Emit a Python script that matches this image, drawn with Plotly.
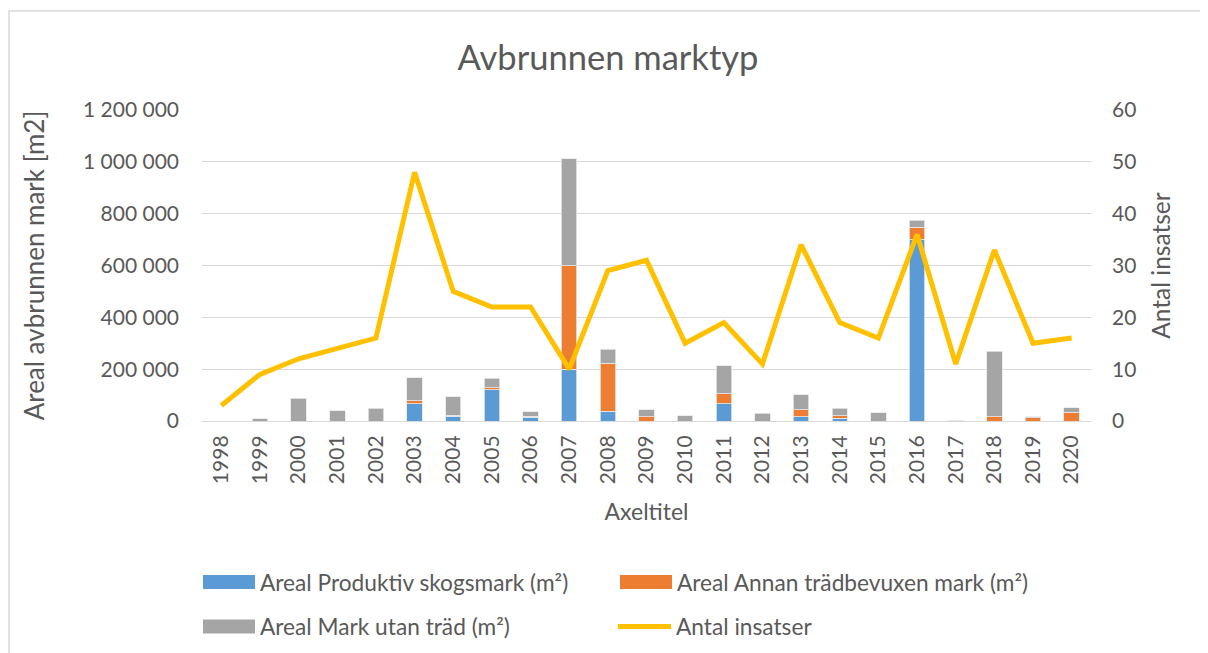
import plotly.graph_objects as go

years = [str(y) for y in range(1998, 2021)]
produktiv = [0, 0, 0, 0, 0, 66000, 18000, 120000, 15000, 200000, 38000, 0, 0, 67000, 0, 17000, 10000, 0, 702000, 0, 0, 0, 0]
annan = [0, 0, 0, 0, 0, 12000, 5000, 9000, 4000, 400000, 184000, 17000, 0, 39000, 0, 26000, 11000, 0, 45000, 1000, 17000, 12000, 33000]
utan_trad = [0, 8000, 87000, 40000, 50000, 88000, 71000, 36000, 17000, 412000, 54000, 27000, 21000, 107000, 30000, 59000, 28000, 31000, 27000, 1000, 253000, 5000, 19000]
insatser = [3, 9, 12, 14, 16, 48, 25, 22, 22, 10, 29, 31, 15, 19, 11, 34, 19, 16, 36, 11, 33, 15, 16]

names = ["Areal Produktiv skogsmark (m²)", "Areal Annan trädbevuxen mark (m²)",
         "Areal Mark utan träd (m²)", "Antal insatser"]
colors = ["#5B9BD5", "#ED7D31", "#A5A5A5", "#FFC000"]

FONT = "Lato"
TXT = "#595959"
OFF = 8  # page body margin

fig = go.Figure()
for vals, nm, col in zip([produktiv, annan, utan_trad], names[:3], colors[:3]):
    fig.add_trace(go.Bar(x=years, y=vals, name=nm, showlegend=False,
                         marker=dict(color=col, line=dict(color="#e8e8e8", width=0.8))))
fig.add_trace(go.Scatter(x=years, y=insatser, name=names[3], mode="lines", yaxis="y2", showlegend=False,
                         line=dict(color=colors[3], width=5)))

W, H = 1208 - OFF, 653 - OFF
L, R, T, B = 202 - OFF, 1091 - OFF, 110 - OFF, 421 - OFF
pw, ph = R - L, B - T

def px_x(x):
    return (x - OFF - L) / pw

def px_y(y):
    return (B - (y - OFF)) / ph

shapes = [dict(type="rect", xref="paper", yref="paper", x0=px_x(9), x1=px_x(1205),
               y0=px_y(690), y1=px_y(11), line=dict(color="#d9d9d9", width=1.5), layer="below")]
annotations = []
# custom legend (two rows, two columns)
leg_pos = [(203, 582), (620, 582), (203, 626.5), (616, 626.5)]
for i, ((lx, ly), nm, col) in enumerate(zip(leg_pos, names, colors)):
    if i < 3:
        shapes.append(dict(type="rect", xref="paper", yref="paper", x0=px_x(lx), x1=px_x(lx + 52),
                           y0=px_y(ly + 7), y1=px_y(ly - 7), fillcolor=col, line=dict(width=0)))
        tx = lx + 55
    else:
        shapes.append(dict(type="line", xref="paper", yref="paper", x0=px_x(lx + 2), x1=px_x(lx + 55),
                           y0=px_y(ly), y1=px_y(ly), line=dict(color=col, width=5)))
        tx = lx + 58
    annotations.append(dict(text=nm, xref="paper", yref="paper", x=px_x(tx), y=px_y(ly),
                            xanchor="left", yanchor="middle", showarrow=False,
                            font=dict(size=22.7, color=TXT, family=FONT)))

fig.update_layout(
    width=W, height=H,
    margin=dict(l=L, r=W - R, t=T, b=H - B),
    paper_bgcolor="white", plot_bgcolor="white",
    barmode="stack", bargap=0.6,
    separators=", ",
    font=dict(family=FONT, color=TXT, size=20),
    title=dict(text="Avbrunnen marktyp", x=0.5, xanchor="center", y=1 - (58 - OFF) / H, yanchor="middle",
               font=dict(size=34.5, color=TXT, family=FONT)),
    xaxis=dict(type="category", tickangle=-90, showgrid=False, showline=True, linecolor="#d9d9d9",
               linewidth=1, tickfont=dict(size=21, color=TXT), ticks="", ticklabelstandoff=5,
               title=dict(text="Axeltitel", font=dict(size=23, color=TXT), standoff=20)),
    yaxis=dict(range=[0, 1200000], dtick=200000, tickformat=",d", showgrid=True, gridcolor="#d9d9d9",
               gridwidth=1, zeroline=False, tickfont=dict(size=21, color=TXT), ticks="",
               ticklabelstandoff=22,
               title=dict(text="Areal avbrunnen mark [m2]", font=dict(size=26, color=TXT), standoff=30)),
    yaxis2=dict(range=[0, 60], dtick=10, overlaying="y", side="right", showgrid=False, zeroline=False,
                tickfont=dict(size=21, color=TXT), ticks="", ticklabelstandoff=20,
                title=dict(text="Antal insatser", font=dict(size=24.5, color=TXT), standoff=17)),
    shapes=shapes,
    annotations=annotations,
    showlegend=False,
)

fig.write_html("out.html")
